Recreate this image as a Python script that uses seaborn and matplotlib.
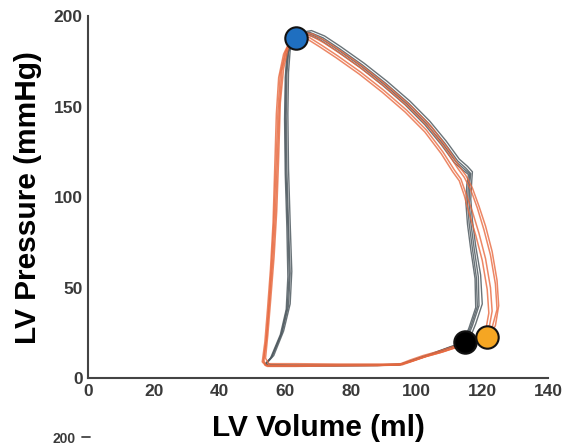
import matplotlib
matplotlib.use("Agg")
import matplotlib.pyplot as plt
import seaborn as sns
import pandas as pd
from matplotlib.lines import Line2D

# ---------------- data ----------------
orange_a_vol = [121,123,124.5,124,122.5,120.5,118.5,116.5,114.5,112.5,109,104,98,91,84,77,72,68,65,62.5,
                60.5,59,58.2,57.6,57,56.2,55.2,54.3,53.5,54,62,75,88,95,98,102,107,112,117,121]
orange_a_pres = [22,28,38,52,68,82,94,104,111,116,126,138,149,160,170,179,185,189,190,188,
                 182,170,150,120,90,65,42,22,10,7,7,7,7,7.5,9,11.5,14,17,20,22]
orange_b_vol = [120,122,123,122.5,121,119,117,115,113.5,111.5,108,103,97,90,83,76,71,67.5,64.5,62,
                60,58.5,57.8,57.2,56.6,55.8,55,54.2,53.3,54.5,63,76,89,95.5,99,103,108,113,117.5,120]
orange_b_pres = [21,27,37,50,66,80,92,102,110,115,125,137,148,159,169,178,184,188,189.5,187,
                 180,168,148,118,88,62,40,21,9,6.5,6.5,6.8,7,7.3,9.5,12,14.5,17.5,20,21]
orange_c_vol = [119,121,122,121.5,120,118,116,114.5,113,111,107.5,102.5,96.5,89.5,82.5,75.5,70.5,67,64,61.5,
                59.5,58,57.3,56.8,56.3,55.5,54.6,53.8,53,54,62,75,88,94.5,98,102,107,112,116.5,119]
orange_c_pres = [20,26,36,49,65,79,91,101,109,114,124,136,147,158,168,177,183,187,189,186.5,
                 179,166,146,116,86,60,38,20,9,7,7,7.2,7.2,7.5,10,12.5,15,18,19.5,20]
orange_d_vol = [122,124,125,124.5,123,121,119,117,115,113,109.5,104.5,98.5,91.5,84.5,77.5,72.5,68.5,65.5,63,
                61,59.5,58.5,58,57.4,56.6,55.6,54.7,54,55,63,76,89,96,99.5,103.5,108.5,113.5,118.5,122]
orange_d_pres = [23,29,40,54,70,84,95,105,112,117,127,139,150,161,171,180,186,190,191,189,
                 183,171,152,122,92,67,44,24,11,8,8,7.8,7.8,8,10,12.5,15,18,21,23]

gray_a_vol = [115,117,119,118.8,117.5,116.5,116,116.2,116.5,115,112.5,108.5,103.5,97.5,90.5,83.5,76.5,71.5,67.5,64.5,
              62.3,61,60.5,60.3,60.5,61,61.5,61,59,56,54,55,62,75,88,95,99,104,110,115]
gray_a_pres = [20,29,40,56,72,86,98,108,113,116,120,130,141,152,163,173,182,188,191,190,
               187,180,168,145,115,85,58,40,25,12,8,7,7,7,7,7.5,10,13,17,20]
gray_b_vol = [114,116,118,117.8,116.5,115.5,115,115.3,115.8,114,111.5,107.5,102.5,96.5,89.5,82.5,75.5,70.5,66.5,63.8,
              61.8,60.5,60,59.8,60,60.5,60.8,60.3,58.5,55.5,53.8,55,62,75,88,94.5,98.5,103.5,109.5,114]
gray_b_pres = [19,28,39,55,71,85,97,107,112.5,115,119,129,140,151,162,172,181,187,190,189.5,
               186,179,166,143,113,83,56,38,24,11,7.5,6.8,6.8,6.8,7,7.3,9.5,12.5,16.5,19]
gray_c_vol = [116,118,120,119.5,118,117,116.5,116.8,117,115.5,113,109,104,98,91,84,77,72,68,65,
              62.8,61.5,61,60.8,61,61.5,62,61.5,59.5,56.5,54.5,55.5,62.5,75.5,88.5,95.5,99.5,104.5,110.5,116]
gray_c_pres = [21,30,41,57,73,87,99,109,114,117,121,131,142,153,164,174,183,189,192,191,
               188,181,169,146,116,86,59,41,26,12.5,8.5,7.5,7.3,7.3,7.3,8,10.5,13.5,17.5,21]
gray_d_vol = [114.5,116.5,118.5,118.2,117,116,115.5,115.8,116.2,114.5,112,108,103,97,90,83,76,71,67,64.2,
              62,60.8,60.2,60,60.2,60.8,61.2,60.6,58.8,55.8,54,55,62,75,88,95,99,104,110,114.5]
gray_d_pres = [19.5,28.5,39.5,55.5,71.5,85.5,97.5,107.5,112.8,115.5,119.5,129.5,140.5,151.5,162.5,172.5,181.5,187.5,190.5,189.8,
               186.5,179.5,167,144,114,84,57,39,24.5,11.5,7.8,6.9,6.9,6.9,7.1,7.4,9.8,12.8,16.8,19.5]

marker_names = ["end-systole", "end-diastole (gray)", "end-diastole (orange)"]
marker_vol = [63.2, 114.6, 121.3]
marker_pres = [188, 20, 22.6]

x_ticks = [0, 20, 40, 60, 80, 100, 120, 140]
y_ticks = [0, 50, 100, 150, 200]

# ---------------- build table ----------------
rows = []
cycles = [("gray", "g1", gray_a_vol, gray_a_pres), ("gray", "g2", gray_b_vol, gray_b_pres),
          ("gray", "g3", gray_c_vol, gray_c_pres), ("gray", "g4", gray_d_vol, gray_d_pres),
          ("orange", "o1", orange_a_vol, orange_a_pres), ("orange", "o2", orange_b_vol, orange_b_pres),
          ("orange", "o3", orange_c_vol, orange_c_pres), ("orange", "o4", orange_d_vol, orange_d_pres)]
for grp, cid, v, p in cycles:
    for i, (vv, pp) in enumerate(zip(v, p)):
        rows.append({"group": grp, "cycle": cid, "order": i, "vol": vv, "pres": pp})
df = pd.DataFrame(rows)

sns.set_theme(style="white")
plt.rcParams["font.family"] = ["Liberation Sans", "DejaVu Sans"]

fig = plt.figure(figsize=(5.69, 4.47), dpi=100)
ax = fig.add_axes([0.155, 0.154, 0.808, 0.81])

sns.lineplot(data=df[df.group == "gray"], x="vol", y="pres", units="cycle", estimator=None,
             sort=False, color="#4f5a60", lw=1.0, alpha=0.85, ax=ax, legend=False)
sns.lineplot(data=df[df.group == "orange"], x="vol", y="pres", units="cycle", estimator=None,
             sort=False, color="#e8693f", lw=1.1, alpha=0.8, ax=ax, legend=False)

mdf = pd.DataFrame({"name": marker_names, "vol": marker_vol, "pres": marker_pres})
pal = {"end-systole": "#1f6fc0", "end-diastole (gray)": "#000000", "end-diastole (orange)": "#f5a623"}
for nm in marker_names:
    sns.scatterplot(data=mdf[mdf.name == nm], x="vol", y="pres", color=pal[nm], s=260,
                    edgecolor="#111111", linewidth=1.5, ax=ax, zorder=5, legend=False)

ax.set_xlim(0, 140)
ax.set_ylim(0, 200)
ax.set_xticks(x_ticks)
ax.set_yticks(y_ticks)
ax.set_xticklabels([str(t) for t in x_ticks], fontsize=12.5, fontweight="bold", color="#3a3a3a")
ax.set_yticklabels([str(t) for t in y_ticks], fontsize=12.5, fontweight="bold", color="#3a3a3a")
ax.tick_params(direction="in", length=4, width=1.3, color="#444444", pad=4)
for s in ["top", "right"]:
    ax.spines[s].set_visible(False)
for s in ["left", "bottom"]:
    ax.spines[s].set_color("#444444")
    ax.spines[s].set_linewidth(1.5)
ax.set_xlabel("LV Volume (ml)", fontsize=21.5, fontweight="bold", color="black", labelpad=11)
ax.set_ylabel("LV Pressure (mmHg)", fontsize=21.5, fontweight="bold", color="black", labelpad=8)
ax.grid(False)

# tick label of the panel below (cut by the image edge in the reference)
fig.text(64 / 569, (447 - 432) / 447, "200", fontsize=10, fontweight="bold", color="#3a3a3a",
         ha="center", va="top")
fig.add_artist(Line2D([82 / 569, 90 / 569], [(447 - 437) / 447] * 2, color="#444444", lw=1.3))

fig.savefig("out.png", dpi=100)
